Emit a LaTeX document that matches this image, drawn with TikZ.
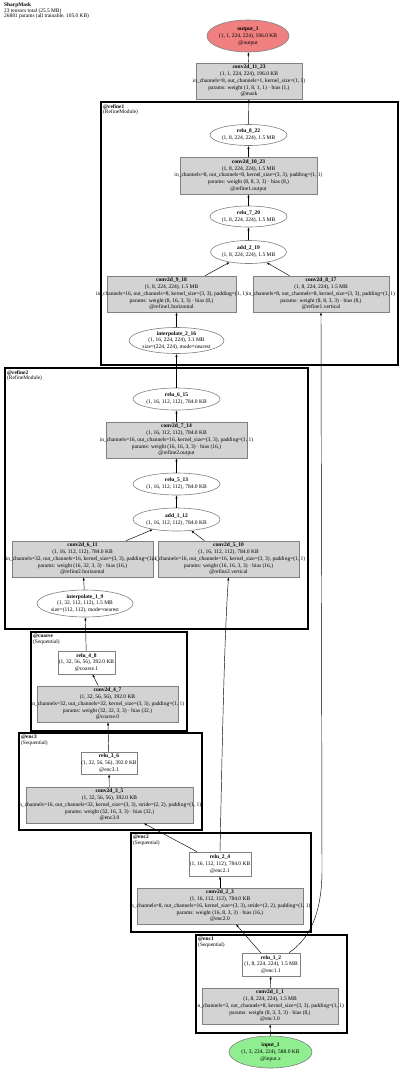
\documentclass[tikz,border=0pt]{standalone}
\usepackage{fontspec}
\setmainfont{Liberation Serif}
\usetikzlibrary{shapes.geometric,arrows.meta,calc}
\definecolor{convgray}{HTML}{D3D3D3}
\definecolor{nodegray}{HTML}{808080}
\definecolor{outred}{HTML}{F08080}
\definecolor{ingreen}{HTML}{90EE90}
\newcommand{\nfont}{\fontsize{5.5}{6.8}\selectfont}
\newcommand{\tfont}{\fontsize{5.4}{5.2}\selectfont}
\newcommand{\nt}[1]{\makebox[0pt]{\begin{tabular}{@{}c@{}}#1\end{tabular}}}
\newcommand{\gnode}[6]{%
  \node[#2, minimum width=#4, minimum height=#5] (#1) at (#3) {};
  \node[txt] (#1-t) at (#1.center) {\nt{#6}};}
\tikzset{
  box/.style={rectangle, draw=nodegray, fill=convgray, line width=0.6pt, inner sep=0pt},
  wbox/.style={rectangle, draw=nodegray, fill=white, line width=0.6pt, inner sep=0pt},
  ell/.style={ellipse, draw=nodegray, fill=white, line width=0.6pt, inner sep=0pt},
  txt/.style={inner sep=0pt, font=\nfont},
  cluster/.style={rectangle, draw=black, line width=2.2pt, inner sep=0pt, anchor=north west},
  clabel/.style={anchor=north west, align=left, inner sep=0pt, font=\tfont},
  edge/.style={-{Latex[length=3pt,width=2.2pt]}, line width=0.45pt, draw=black},
}
\begin{document}
\begin{tikzpicture}[x=1pt,y=-1pt]
\fill[white] (0,0) rectangle (400,1071);
\useasboundingbox (0,0) rectangle (400,1071);

% title
\node[clabel] (title) at (4,3) {\textbf{SharpMask}\\23 tensors total (25.5 MB)\\26881 params (all trainable, 105.0 KB)};

% clusters
\node[cluster, minimum width=297, minimum height=263] (refine1) at (100,101) {};
\node[clabel] (refine1-l) at (103,104) {\textbf{@refine1}\\(RefineModule)};
\node[cluster, minimum width=303, minimum height=261] (refine2) at (4,367) {};
\node[clabel] (refine2-l) at (7,370) {\textbf{@refine2}\\(RefineModule)};
\node[cluster, minimum width=156, minimum height=99] (coarse) at (30,631) {};
\node[clabel] (coarse-l) at (33,634) {\textbf{@coarse}\\(Sequential)};
\node[cluster, minimum width=183, minimum height=97] (enc3) at (18,732) {};
\node[clabel] (enc3-l) at (21,735) {\textbf{@enc3}\\(Sequential)};
\node[cluster, minimum width=180, minimum height=99] (enc2) at (130,832) {};
\node[clabel] (enc2-l) at (133,835) {\textbf{@enc2}\\(Sequential)};
\node[cluster, minimum width=151, minimum height=98] (enc1) at (195,934) {};
\node[clabel] (enc1-l) at (198,937) {\textbf{@enc1}\\(Sequential)};

% nodes
\gnode{out}{ell, fill=outred}{248,36}{82}{32}{\textbf{output\_1}\\(1, 1, 224, 224), 196.0 KB\\@output}
\gnode{c1123}{box}{249,81}{106}{36}{\textbf{conv2d\_11\_23}\\(1, 1, 224, 224), 196.0 KB\\in\_channels=8, out\_channels=1, kernel\_size=(1, 1)\\params: weight (1, 8, 1, 1) · bias (1,)\\@mask}
\gnode{r822}{ell}{248.5,135}{77}{21}{\textbf{relu\_8\_22}\\(1, 8, 224, 224), 1.5 MB}
\gnode{c1023}{box}{248.5,175.5}{137}{37}{\textbf{conv2d\_10\_23}\\(1, 8, 224, 224), 1.5 MB\\in\_channels=8, out\_channels=8, kernel\_size=(3, 3), padding=(1, 1)\\params: weight (8, 8, 3, 3) · bias (8,)\\@refine1.output}
\gnode{r720}{ell}{248.5,216.5}{77}{21}{\textbf{relu\_7\_20}\\(1, 8, 224, 224), 1.5 MB}
\gnode{a219}{ell}{248.5,252}{76}{23}{\textbf{add\_2\_19}\\(1, 8, 224, 224), 1.5 MB}
\gnode{c918}{box}{171.5,294}{129}{36}{\textbf{conv2d\_9\_18}\\(1, 8, 224, 224), 1.5 MB\\in\_channels=16, out\_channels=8, kernel\_size=(3, 3), padding=(1, 1)\\params: weight (8, 16, 3, 3) · bias (8,)\\@refine1.horizontal}
\gnode{c817}{box}{321,294}{136}{36}{\textbf{conv2d\_8\_17}\\(1, 8, 224, 224), 1.5 MB\\in\_channels=8, out\_channels=8, kernel\_size=(3, 3), padding=(1, 1)\\params: weight (8, 8, 3, 3) · bias (8,)\\@refine1.vertical}
\gnode{i216}{ell}{176.5,340.5}{95}{26}{\textbf{interpolate\_2\_16}\\(1, 16, 224, 224), 3.1 MB\\size=(224, 224), mode=nearest}

\gnode{r615}{ell}{176.5,399}{87}{22}{\textbf{relu\_6\_15}\\(1, 16, 112, 112), 784.0 KB}
\gnode{c714}{box}{176.5,440}{141}{36}{\textbf{conv2d\_7\_14}\\(1, 16, 112, 112), 784.0 KB\\in\_channels=16, out\_channels=16, kernel\_size=(3, 3), padding=(1, 1)\\params: weight (16, 16, 3, 3) · bias (16,)\\@refine2.output}
\gnode{r513}{ell}{176.5,484}{87}{22}{\textbf{relu\_5\_13}\\(1, 16, 112, 112), 784.0 KB}
\gnode{a112}{ell}{176.5,519.5}{87}{23}{\textbf{add\_1\_12}\\(1, 16, 112, 112), 784.0 KB}
\gnode{c611}{box}{82.5,559}{141}{36}{\textbf{conv2d\_6\_11}\\(1, 16, 112, 112), 784.0 KB\\in\_channels=32, out\_channels=16, kernel\_size=(3, 3), padding=(1, 1)\\params: weight (16, 32, 3, 3) · bias (16,)\\@refine2.horizontal}
\gnode{c510}{box}{228.5,559}{141}{36}{\textbf{conv2d\_5\_10}\\(1, 16, 112, 112), 784.0 KB\\in\_channels=16, out\_channels=16, kernel\_size=(3, 3), padding=(1, 1)\\params: weight (16, 16, 3, 3) · bias (16,)\\@refine2.vertical}
\gnode{i19}{ell}{85,603.5}{96}{27}{\textbf{interpolate\_1\_9}\\(1, 32, 112, 112), 1.5 MB\\size=(112, 112), mode=nearest}

\gnode{r48}{wbox}{86.5,662.5}{57}{23}{\textbf{relu\_4\_8}\\(1, 32, 56, 56), 392.0 KB\\@coarse.1}
\gnode{c47}{box}{107.5,704}{141}{36}{\textbf{conv2d\_4\_7}\\(1, 32, 56, 56), 392.0 KB\\in\_channels=32, out\_channels=32, kernel\_size=(3, 3), padding=(1, 1)\\params: weight (32, 32, 3, 3) · bias (32,)\\@coarse.0}
\gnode{r36}{wbox}{109,763}{56}{22}{\textbf{relu\_3\_6}\\(1, 32, 56, 56), 392.0 KB\\@enc3.1}
\gnode{c35}{box}{109.5,805}{167}{36}{\textbf{conv2d\_3\_5}\\(1, 32, 56, 56), 392.0 KB\\in\_channels=16, out\_channels=32, kernel\_size=(3, 3), stride=(2, 2), padding=(1, 1)\\params: weight (32, 16, 3, 3) · bias (32,)\\@enc3.0}
\gnode{r24}{wbox}{220,864}{62}{24}{\textbf{relu\_2\_4}\\(1, 16, 112, 112), 784.0 KB\\@enc2.1}
\gnode{c23}{box}{220,906}{166}{36}{\textbf{conv2d\_2\_3}\\(1, 16, 112, 112), 784.0 KB\\in\_channels=8, out\_channels=16, kernel\_size=(3, 3), stride=(2, 2), padding=(1, 1)\\params: weight (16, 8, 3, 3) · bias (16,)\\@enc2.0}
\gnode{r12}{wbox}{271,964.5}{58}{23}{\textbf{relu\_1\_2}\\(1, 8, 224, 224), 1.5 MB\\@enc1.1}
\gnode{c11}{box}{270,1006}{136}{36}{\textbf{conv2d\_1\_1}\\(1, 8, 224, 224), 1.5 MB\\in\_channels=3, out\_channels=8, kernel\_size=(3, 3), padding=(1, 1)\\params: weight (8, 3, 3, 3) · bias (8,)\\@enc1.0}
\gnode{in1}{ell, fill=ingreen}{270.5,1052}{83}{32}{\textbf{input\_1}\\(1, 3, 224, 224), 588.0 KB\\@input.x}

% edges
\draw[edge] (in1) -- (c11);
\draw[edge] (c11) -- (r12);
\draw[edge] (r12) -- (c23);
\draw[edge] ($(r12.north)+(18,0)$) .. controls (314,936) and (322,905) .. (322,870) -- (c817.south);
\draw[edge] (c23) -- (r24);
\draw[edge] (r24) -- (c35);
\draw[edge] (r24.north) .. controls (222,760) and (224,640) .. (c510.south);
\draw[edge] (c35) -- (r36);
\draw[edge] (r36) -- (c47);
\draw[edge] (c47) -- (r48);
\draw[edge] (r48) -- (i19);
\draw[edge] (i19) -- (c611);
\draw[edge] (c611) -- (a112);
\draw[edge] (c510) -- (a112);
\draw[edge] (a112) -- (r513);
\draw[edge] (r513) -- (c714);
\draw[edge] (c714) -- (r615);
\draw[edge] (r615) -- (i216);
\draw[edge] (i216.north) -- (i216.north |- c918.south);
\draw[edge] (c918) -- (a219);
\draw[edge] (c817) -- (a219);
\draw[edge] (a219) -- (r720);
\draw[edge] (r720) -- (c1023);
\draw[edge] (c1023) -- (r822);
\draw[edge] (r822) -- (c1123);
\draw[edge] (c1123) -- (out);
\end{tikzpicture}
\end{document}
